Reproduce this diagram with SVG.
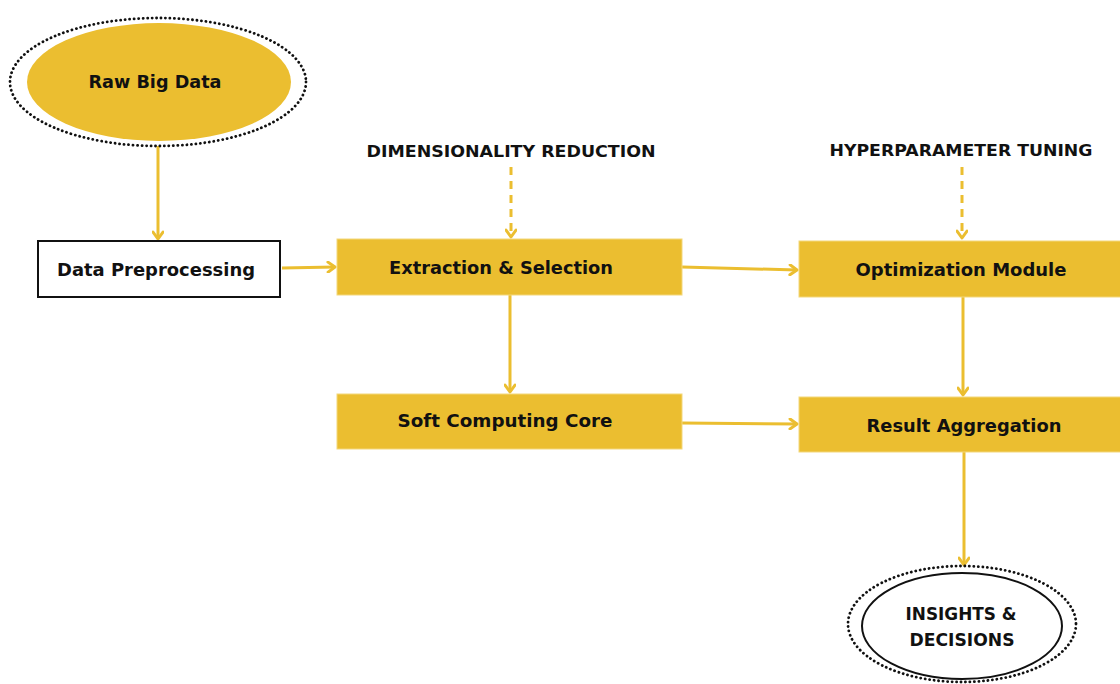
<svg xmlns="http://www.w3.org/2000/svg" width="1120" height="684" viewBox="0 0 1120 684">
<style>
.t{font-family:"DejaVu Sans","Liberation Sans",sans-serif;font-weight:700;font-size:17px;fill:#111;text-anchor:middle;dominant-baseline:central}
.cap{font-size:16px}
.box{fill:#EBBE30;stroke:#f3d77a;stroke-width:1}
.c{stroke:#EBBE30;stroke-width:3;fill:none;marker-end:url(#ah)}
.d{stroke-dasharray:8 6}
.dot{fill:none;stroke:#111;stroke-width:2.8;stroke-dasharray:0.1 4.4;stroke-linecap:round}
</style>
<defs>
<marker id="ah" markerWidth="12" markerHeight="12" refX="9" refY="6" orient="auto" markerUnits="userSpaceOnUse">
<path d="M2,1 L9,6 L2,11" fill="none" stroke="#EBBE30" stroke-width="3" stroke-linecap="round" stroke-linejoin="round"/>
</marker>
</defs>
<rect width="1120" height="684" fill="#fff"/>
<g id="connectors">
<path class="c" d="M158,146 V239"/>
<path class="c" d="M282,268 L335,267"/>
<path class="c d" d="M511,167 V237"/>
<path class="c" d="M682,267 L797,270"/>
<path class="c d" d="M962,167 V238"/>
<path class="c" d="M510,295 V392"/>
<path class="c" d="M682,423 L797,424"/>
<path class="c" d="M963,297 V395"/>
<path class="c" d="M964,452 V565"/>
</g>
<g id="raw-big-data">
<ellipse class="dot" cx="158" cy="82" rx="148" ry="64"/>
<ellipse cx="159" cy="82" rx="132" ry="59" fill="#EBBE30"/>
<text class="t" x="155" y="82" textLength="133" lengthAdjust="spacingAndGlyphs">Raw Big Data</text>
</g>
<g id="data-preprocessing">
<rect x="38" y="241" width="242" height="56" fill="#fff" stroke="#111" stroke-width="2"/>
<text class="t" x="156" y="270" textLength="198" lengthAdjust="spacingAndGlyphs">Data Preprocessing</text>
</g>
<g id="dimensionality-reduction">
<text class="t cap" x="511" y="151" textLength="289" lengthAdjust="spacingAndGlyphs">DIMENSIONALITY REDUCTION</text>
</g>
<g id="extraction-selection">
<rect class="box" x="337" y="239" width="345" height="56"/>
<text class="t" x="501" y="268" textLength="224" lengthAdjust="spacingAndGlyphs">Extraction &amp; Selection</text>
</g>
<g id="hyperparameter-tuning">
<text class="t cap" x="961" y="150" textLength="263" lengthAdjust="spacingAndGlyphs">HYPERPARAMETER TUNING</text>
</g>
<g id="optimization-module">
<rect class="box" x="799" y="241" width="325" height="56"/>
<text class="t" x="961" y="270" textLength="211" lengthAdjust="spacingAndGlyphs">Optimization Module</text>
</g>
<g id="soft-computing-core">
<rect class="box" x="337" y="394" width="345" height="55"/>
<text class="t" x="505" y="421" textLength="215" lengthAdjust="spacingAndGlyphs">Soft Computing Core</text>
</g>
<g id="result-aggregation">
<rect class="box" x="799" y="397" width="325" height="55"/>
<text class="t" x="964" y="426" textLength="195" lengthAdjust="spacingAndGlyphs">Result Aggregation</text>
</g>
<g id="insights-decisions">
<ellipse class="dot" cx="962" cy="624" rx="114" ry="58"/>
<ellipse cx="962" cy="626" rx="100" ry="53" fill="#fff" stroke="#111" stroke-width="2"/>
<text class="t" x="961" y="614" textLength="111" lengthAdjust="spacingAndGlyphs">INSIGHTS &amp;</text>
<text class="t" x="962" y="640" textLength="105" lengthAdjust="spacingAndGlyphs">DECISIONS</text>
</g>
</svg>
